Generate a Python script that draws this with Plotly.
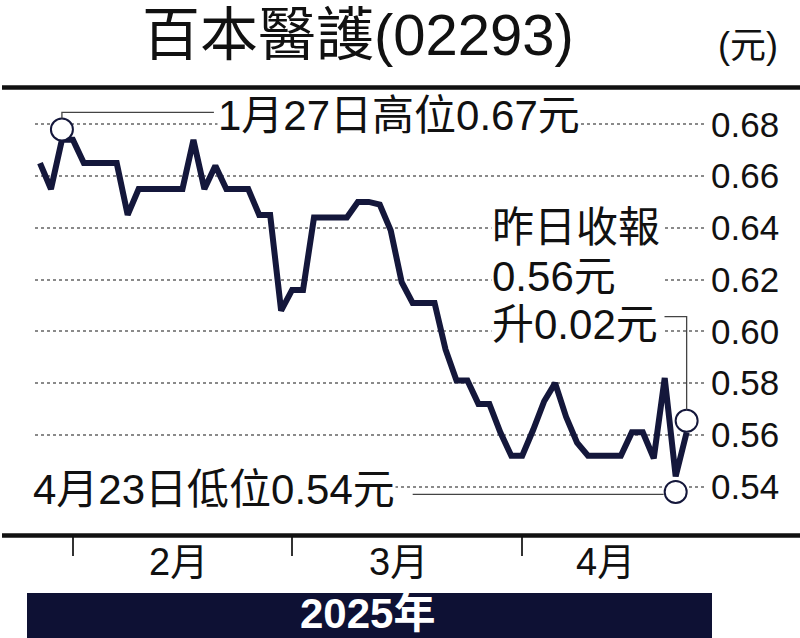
import plotly.graph_objects as go

# ---------------- data ----------------
dates = [
    "2025-01-23", "2025-01-24", "2025-01-27", "2025-01-28",
    "2025-02-03", "2025-02-04", "2025-02-05", "2025-02-06", "2025-02-07",
    "2025-02-10", "2025-02-11", "2025-02-12", "2025-02-13", "2025-02-14",
    "2025-02-17", "2025-02-18", "2025-02-19", "2025-02-20", "2025-02-21",
    "2025-02-24", "2025-02-25", "2025-02-26", "2025-02-27", "2025-02-28",
    "2025-03-03", "2025-03-04", "2025-03-05", "2025-03-06", "2025-03-07",
    "2025-03-10", "2025-03-11", "2025-03-12", "2025-03-13", "2025-03-14",
    "2025-03-17", "2025-03-18", "2025-03-19", "2025-03-20", "2025-03-21",
    "2025-03-24", "2025-03-25", "2025-03-26", "2025-03-27", "2025-03-28",
    "2025-03-31",
    "2025-04-01", "2025-04-02", "2025-04-03", "2025-04-07", "2025-04-08",
    "2025-04-09", "2025-04-10", "2025-04-11", "2025-04-14", "2025-04-15",
    "2025-04-16", "2025-04-17", "2025-04-22", "2025-04-23", "2025-04-24",
]
prices = [
    0.665, 0.655, 0.674, 0.674,
    0.665, 0.665, 0.665, 0.665, 0.645,
    0.655, 0.655, 0.655, 0.655, 0.655,
    0.674, 0.655, 0.664, 0.655, 0.655,
    0.655, 0.645, 0.645, 0.608, 0.616,
    0.616, 0.644, 0.644, 0.644, 0.644,
    0.650, 0.650, 0.649, 0.639, 0.619,
    0.611, 0.611, 0.611, 0.593, 0.581,
    0.581, 0.572, 0.572, 0.561, 0.552,
    0.552,
    0.562, 0.573, 0.580, 0.567, 0.557,
    0.552, 0.552, 0.552, 0.552, 0.561,
    0.561, 0.551, 0.582, 0.544, 0.561,
]
y_ticks = [0.54, 0.56, 0.58, 0.60, 0.62, 0.64, 0.66, 0.68]
y_tick_text = ["0.54", "0.56", "0.58", "0.60", "0.62", "0.64", "0.66", "0.68"]
month_ticks = ["2025-01-28", "2025-02-28", "2025-03-31"]
month_labels = ["2月", "3月", "4月"]
hl_dates = ["2025-01-27", "2025-04-23", "2025-04-24"]
hl_vals = [0.678, 0.538, 0.5655]

title_text = "百本醫護(02293)"
unit_text = "(元)"
year_text = "2025年"
high_note = "1月27日高位0.67元"
low_note = "4月23日低位0.54元"
close_note = ["昨日收報", "0.56元", "升0.02元"]

# ---------------- layout helpers ----------------
W, H = 800, 638
L, R, T, B = 35, 93, 88, 103
PW, PH = W - L - R, H - T - B


def px(x):
    return (x - L) / PW


def py(y):
    return (H - B - y) / PH


NAVY = "#14173b"
INK = "#111111"
FONT = "Liberation Sans, Arial, Noto Sans CJK TC, sans-serif"

fig = go.Figure()
fig.add_trace(go.Scatter(
    x=dates, y=prices, mode="lines",
    line=dict(color=NAVY, width=6),
    hoverinfo="x+y", showlegend=False,
))
fig.add_trace(go.Scatter(
    x=hl_dates, y=hl_vals, mode="markers",
    marker=dict(symbol="circle", size=22, color="white",
                line=dict(color=NAVY, width=2)),
    showlegend=False, cliponaxis=False,
))

shapes = []
# top & bottom rules
shapes.append(dict(type="line", xref="paper", yref="paper",
                   x0=px(2), x1=px(800), y0=py(87.5), y1=py(87.5),
                   line=dict(color=INK, width=4.5)))
shapes.append(dict(type="line", xref="paper", yref="paper",
                   x0=px(2), x1=px(800), y0=py(535.5), y1=py(535.5),
                   line=dict(color=INK, width=4.5)))
# year bar
shapes.append(dict(type="rect", xref="paper", yref="paper",
                   x0=px(27), x1=px(712), y0=py(640), y1=py(593),
                   fillcolor="#0e1134", line=dict(width=0)))
# leader lines (pixel offsets anchored at highlight points)
leader_paths = [
    "M 0,11 L 0,17 L 152,17",
    "M -12,-2.5 L -263,-2.5",
    "M 0,11 L 0,104 L -25,104",
]
for d, v, p in zip(hl_dates, hl_vals, leader_paths):
    shapes.append(dict(type="path", xref="x", yref="y",
                       xsizemode="pixel", ysizemode="pixel",
                       xanchor=d, yanchor=v, path=p,
                       line=dict(color="#444444", width=1.3)))

ann = []
ann.append(dict(text=title_text, xref="paper", yref="paper",
                x=px(358), y=py(35), xanchor="center", yanchor="middle",
                showarrow=False, font=dict(family=FONT, size=58, color=INK)))
ann.append(dict(text=unit_text, xref="paper", yref="paper",
                x=px(748), y=py(45), xanchor="center", yanchor="middle",
                showarrow=False, font=dict(family=FONT, size=36, color=INK)))
ann.append(dict(text=high_note, xref="paper", yref="paper",
                x=px(217), y=py(116), xanchor="left", yanchor="middle",
                showarrow=False, bgcolor="white", borderpad=0,
                font=dict(family=FONT, size=42, color=INK)))
ann.append(dict(text=low_note, xref="paper", yref="paper",
                x=px(32), y=py(489), xanchor="left", yanchor="middle",
                showarrow=False, bgcolor="white", borderpad=0,
                font=dict(family=FONT, size=42, color=INK)))
for t, yy in zip(close_note, [228, 276, 324]):
    ann.append(dict(text=t, xref="paper", yref="paper",
                    x=px(491), y=py(yy), xanchor="left", yanchor="middle",
                    width=172, align="left",
                    showarrow=False, bgcolor="white", borderpad=0,
                    font=dict(family=FONT, size=42, color=INK)))
for t, xx in zip(month_labels, [178, 398, 605]):
    ann.append(dict(text=t, xref="paper", yref="paper",
                    x=px(xx), y=py(562), xanchor="center", yanchor="middle",
                    showarrow=False,
                    font=dict(family=FONT, size=38, color=INK)))
ann.append(dict(text=year_text, xref="paper", yref="paper",
                x=px(367), y=py(613), xanchor="center", yanchor="middle",
                showarrow=False,
                font=dict(family=FONT, size=42, color="white", weight="bold")))

y_lo = 0.54 - (535 - 486.7) / 2590
y_hi = 0.68 + (124.3 - 88) / 2590
x_lo = -5 / 10.96
x_hi = (707 - 40) / 10.96

fig.update_layout(
    width=W, height=H,
    margin=dict(l=L, r=R, t=T, b=B, pad=0),
    paper_bgcolor="white", plot_bgcolor="white",
    shapes=shapes, annotations=ann,
    showlegend=False,
    xaxis=dict(type="category", range=[x_lo, x_hi],
               tickvals=month_ticks, ticktext=["", "", ""],
               ticks="outside", ticklen=20, tickwidth=1.5, tickcolor="#333333",
               showgrid=False, showline=False, zeroline=False, fixedrange=True),
    yaxis=dict(side="right", range=[y_lo, y_hi],
               tickvals=y_ticks, ticktext=y_tick_text,
               ticks="", showline=False, zeroline=False,
               showgrid=True, griddash="dot", gridcolor="#8a8a8a", gridwidth=1.5,
               tickfont=dict(family=FONT, size=35, color=INK),
               ticklabelstandoff=3, fixedrange=True),
)

fig.write_html(
    "out.html",
    config={"displayModeBar": False},
    post_script="document.body.style.margin='0px';document.body.style.overflow='hidden';",
)
